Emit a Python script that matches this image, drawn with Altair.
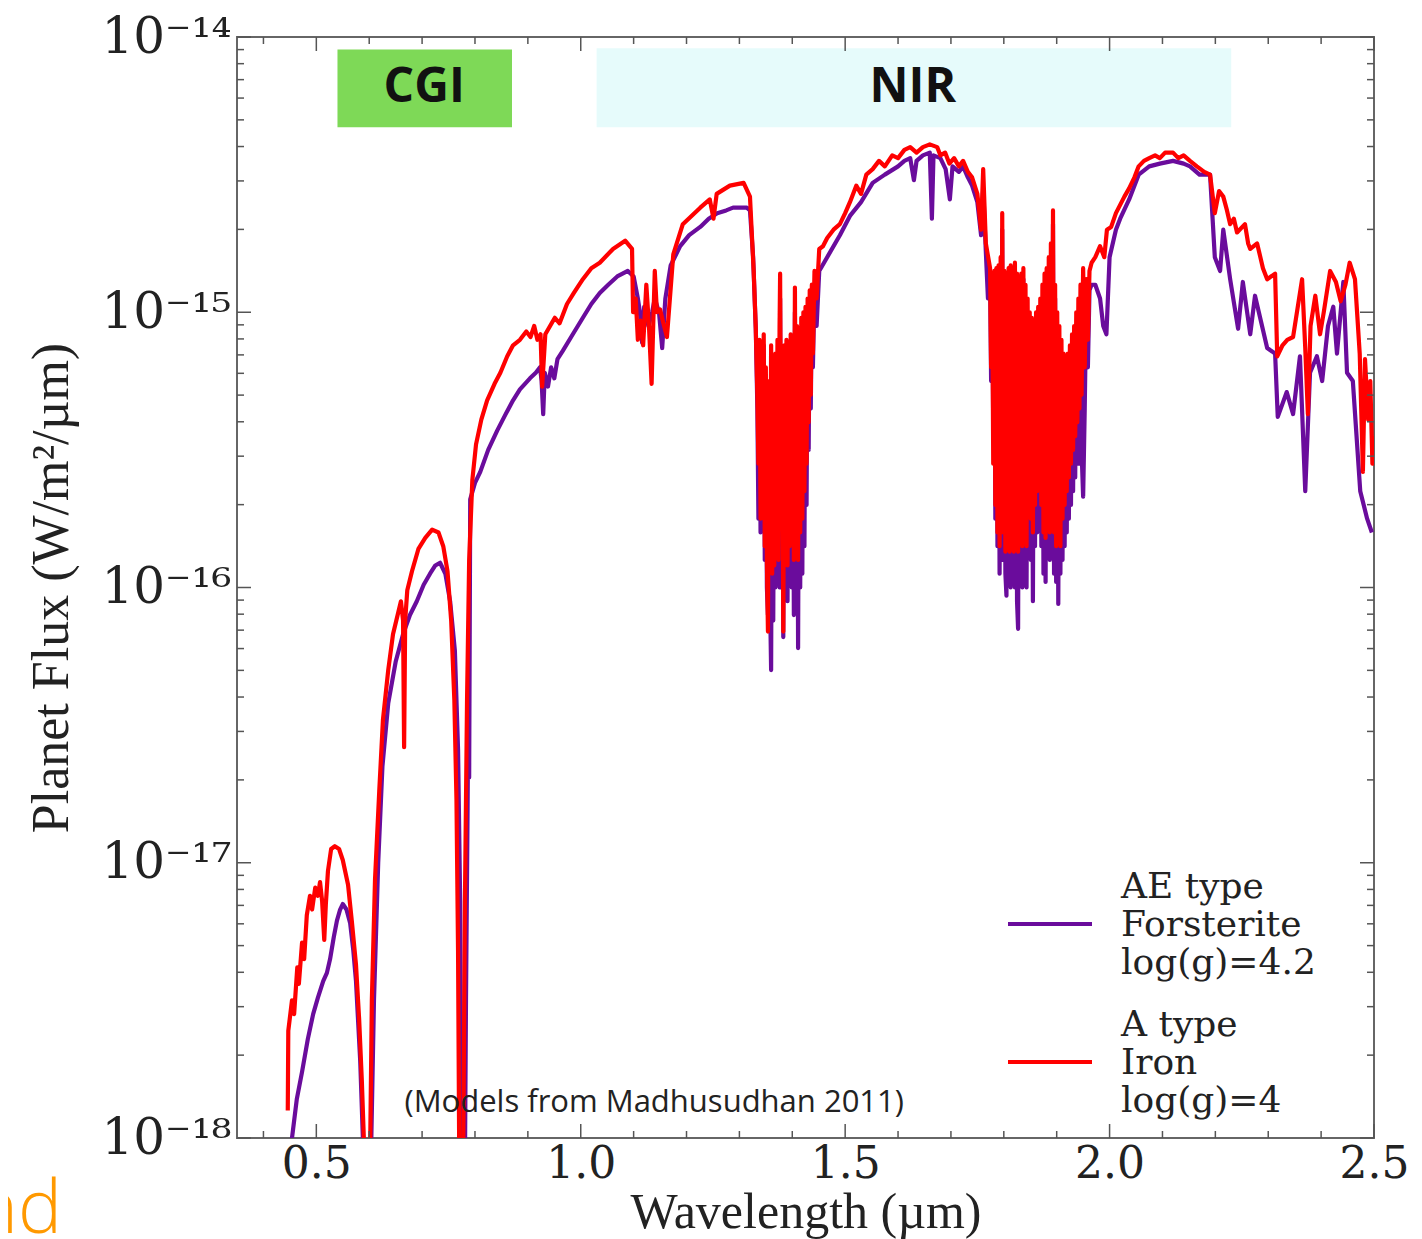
import altair as alt
import pandas as pd

# ---------------- data ----------------
# each entry: (wavelength in µm, log10 of planet flux in W/m²/µm)

# A type, Iron, log(g)=4  (red)
red_visible = [
    (0.446, -17.90), (0.447, -17.61), (0.454, -17.50), (0.458, -17.55), (0.464, -17.38), (0.467, -17.44),
    (0.473, -17.29), (0.477, -17.35), (0.482, -17.19), (0.488, -17.12), (0.492, -17.17), (0.498, -17.09),
    (0.503, -17.12), (0.507, -17.07), (0.511, -17.14), (0.515, -17.28), (0.518, -17.15), (0.522, -17.03),
    (0.528, -16.95), (0.535, -16.94), (0.543, -16.95), (0.550, -16.99), (0.560, -17.08), (0.567, -17.21),
    (0.575, -17.37), (0.581, -17.57), (0.586, -17.79), (0.590, -18.01), (0.594, -18.40), (0.598, -18.40),
    (0.602, -18.00), (0.605, -17.50), (0.611, -17.06), (0.619, -16.74), (0.626, -16.48), (0.636, -16.30),
    (0.645, -16.17), (0.655, -16.09), (0.660, -16.05), (0.664, -16.12), (0.666, -16.58), (0.668, -16.12),
    (0.672, -16.01), (0.681, -15.94), (0.693, -15.86), (0.706, -15.82), (0.719, -15.79), (0.731, -15.80),
    (0.740, -15.85), (0.748, -15.94), (0.755, -16.12), (0.761, -16.41), (0.765, -16.77), (0.768, -17.32),
    (0.770, -18.00), (0.772, -18.40), (0.776, -18.40), (0.778, -18.00), (0.781, -17.14), (0.785, -16.41),
    (0.789, -15.90), (0.795, -15.61), (0.802, -15.48), (0.812, -15.39), (0.823, -15.32), (0.837, -15.26),
    (0.848, -15.22), (0.861, -15.16), (0.872, -15.12), (0.885, -15.10), (0.897, -15.07), (0.905, -15.09),
    (0.912, -15.05), (0.918, -15.10), (0.924, -15.08), (0.927, -15.27), (0.933, -15.08), (0.942, -15.05),
    (0.951, -15.02), (0.960, -15.04), (0.974, -14.97), (0.987, -14.93), (1.004, -14.88), (1.020, -14.84),
    (1.036, -14.82), (1.061, -14.77), (1.084, -14.74), (1.097, -14.77), (1.099, -15.00), (1.104, -14.95),
    (1.108, -15.10), (1.113, -15.03), (1.118, -15.12), (1.124, -14.90), (1.129, -15.05), (1.134, -15.26),
    (1.137, -15.05), (1.140, -14.85), (1.144, -15.00), (1.150, -14.99), (1.155, -15.03), (1.163, -15.09),
    (1.175, -14.79), (1.193, -14.68), (1.226, -14.62), (1.244, -14.59), (1.251, -14.66), (1.257, -14.57),
    (1.282, -14.54), (1.308, -14.53), (1.320, -14.58), (1.327, -14.85), (1.331, -15.06),
]
red_band_135 = [
    (1.334, -15.30), (1.336, -15.55), (1.338, -15.10), (1.340, -15.75), (1.342, -15.15), (1.344, -15.65),
    (1.346, -15.08), (1.348, -15.85), (1.350, -15.20), (1.352, -15.90), (1.354, -16.16), (1.356, -15.25),
    (1.358, -15.85), (1.360, -15.12), (1.362, -15.95), (1.364, -15.20), (1.366, -15.92), (1.368, -15.15),
    (1.370, -15.80), (1.372, -15.10), (1.374, -15.90), (1.376, -15.05), (1.377, -14.86), (1.379, -15.75),
    (1.381, -15.20), (1.383, -16.16), (1.385, -15.12), (1.387, -15.88), (1.389, -15.10), (1.391, -15.92),
    (1.393, -15.15), (1.395, -15.85), (1.397, -15.08), (1.399, -15.80), (1.401, -15.12), (1.403, -15.90),
    (1.405, -14.91), (1.407, -15.85), (1.409, -15.05), (1.411, -15.90), (1.413, -15.08), (1.415, -15.80),
    (1.417, -15.02), (1.419, -15.75), (1.421, -15.00), (1.423, -15.65), (1.425, -14.98), (1.427, -15.55),
    (1.429, -14.95), (1.431, -15.40), (1.433, -14.92), (1.435, -15.30), (1.437, -14.90), (1.439, -15.15),
    (1.442, -14.85), (1.446, -14.95),
]
red_peak_165 = [
    (1.451, -14.77), (1.458, -14.76), (1.466, -14.73), (1.478, -14.70), (1.490, -14.68), (1.500, -14.64),
    (1.509, -14.60), (1.521, -14.54), (1.530, -14.57), (1.540, -14.50), (1.552, -14.48), (1.564, -14.45),
    (1.575, -14.47), (1.589, -14.43), (1.600, -14.44), (1.612, -14.41), (1.623, -14.40), (1.635, -14.42),
    (1.647, -14.40), (1.660, -14.39), (1.674, -14.40), (1.680, -14.43), (1.689, -14.42), (1.697, -14.46),
    (1.706, -14.44), (1.715, -14.47), (1.723, -14.45), (1.732, -14.49), (1.740, -14.51), (1.750, -14.57),
    (1.757, -14.70), (1.761, -14.48), (1.766, -14.75), (1.774, -14.84),
]
red_band_185 = [
    (1.776, -15.20), (1.778, -14.86), (1.780, -15.55), (1.782, -14.85), (1.784, -15.70), (1.786, -14.84),
    (1.788, -15.80), (1.790, -14.83), (1.792, -15.85), (1.794, -14.80), (1.796, -15.75), (1.797, -14.64),
    (1.799, -15.80), (1.801, -14.85), (1.803, -15.87), (1.805, -14.88), (1.807, -15.80), (1.809, -14.84),
    (1.811, -15.87), (1.813, -14.83), (1.815, -15.82), (1.817, -14.85), (1.819, -15.87), (1.821, -14.82),
    (1.823, -15.80), (1.825, -14.86), (1.827, -15.87), (1.829, -14.88), (1.831, -15.75), (1.833, -14.86),
    (1.835, -15.85), (1.837, -14.84), (1.839, -15.80), (1.841, -14.90), (1.843, -15.85), (1.845, -14.95),
    (1.847, -15.70), (1.849, -15.00), (1.851, -15.75), (1.853, -15.02), (1.855, -15.80), (1.857, -15.05),
    (1.859, -15.70), (1.861, -15.00), (1.863, -15.65), (1.865, -14.98), (1.867, -15.60), (1.869, -14.95),
    (1.871, -15.70), (1.873, -14.90), (1.875, -15.80), (1.877, -14.86), (1.879, -15.82), (1.881, -14.84),
    (1.883, -15.75), (1.885, -14.80), (1.887, -15.80), (1.889, -14.75), (1.891, -15.70), (1.893, -14.63),
    (1.895, -15.80), (1.897, -14.90), (1.899, -15.85), (1.901, -15.00), (1.903, -15.80), (1.905, -15.05),
    (1.907, -15.85), (1.909, -15.10), (1.911, -15.75), (1.913, -15.15), (1.915, -15.70), (1.917, -15.17),
    (1.919, -15.65), (1.921, -15.15), (1.923, -15.60), (1.925, -15.12), (1.927, -15.55), (1.929, -15.08),
    (1.931, -15.50), (1.933, -15.05), (1.935, -15.45), (1.937, -15.00), (1.939, -15.40), (1.941, -14.95),
    (1.943, -15.35), (1.945, -14.90), (1.947, -15.30), (1.950, -14.84), (1.953, -15.20), (1.956, -14.88),
    (1.959, -15.10), (1.962, -14.85), (1.966, -14.82), (1.973, -14.80),
]
red_tail = [
    (1.982, -14.76), (1.990, -14.80), (1.995, -14.70), (2.003, -14.69), (2.012, -14.64), (2.020, -14.61),
    (2.028, -14.58), (2.037, -14.55), (2.047, -14.51), (2.055, -14.47), (2.065, -14.45), (2.075, -14.44),
    (2.086, -14.43), (2.095, -14.44), (2.105, -14.42), (2.120, -14.42), (2.130, -14.44), (2.140, -14.43),
    (2.152, -14.45), (2.165, -14.47), (2.179, -14.49), (2.190, -14.50), (2.199, -14.64), (2.207, -14.56),
    (2.215, -14.58), (2.222, -14.63), (2.228, -14.68), (2.235, -14.66), (2.241, -14.71), (2.256, -14.68),
    (2.262, -14.75), (2.266, -14.77), (2.279, -14.75), (2.290, -14.84), (2.298, -14.88), (2.313, -14.86),
    (2.317, -15.16), (2.327, -15.12), (2.336, -15.10), (2.347, -15.09), (2.364, -14.88), (2.370, -15.13),
    (2.375, -15.37), (2.380, -15.05), (2.389, -14.94), (2.398, -15.08), (2.405, -15.00), (2.417, -14.85),
    (2.428, -14.89), (2.437, -14.96), (2.446, -14.90), (2.454, -14.82), (2.464, -14.88), (2.473, -15.15),
    (2.479, -15.58), (2.483, -15.17), (2.489, -15.39), (2.493, -15.25), (2.497, -15.55), (2.500, -15.45),
]

# AE type, Forsterite, log(g)=4.2  (purple)
purple_visible = [
    (0.449, -18.40), (0.454, -18.00), (0.463, -17.86), (0.473, -17.76), (0.484, -17.64), (0.494, -17.55),
    (0.503, -17.49), (0.513, -17.43), (0.520, -17.40), (0.526, -17.35), (0.533, -17.27), (0.539, -17.21),
    (0.545, -17.17), (0.550, -17.15), (0.557, -17.17), (0.564, -17.22), (0.570, -17.32), (0.575, -17.43),
    (0.583, -17.72), (0.588, -18.00), (0.592, -18.40),
    (0.600, -18.40), (0.604, -18.00), (0.609, -17.50), (0.617, -17.00), (0.625, -16.65), (0.636, -16.42),
    (0.650, -16.27), (0.664, -16.17), (0.677, -16.10), (0.690, -16.05), (0.703, -15.99), (0.715, -15.95),
    (0.725, -15.92), (0.734, -15.91), (0.744, -15.95), (0.753, -16.05), (0.762, -16.23), (0.768, -16.59),
    (0.772, -17.14), (0.774, -18.00), (0.776, -18.40),
    (0.780, -18.40), (0.783, -17.50), (0.786, -16.80), (0.788, -16.30), (0.789, -16.69), (0.791, -15.68),
    (0.800, -15.62), (0.810, -15.58), (0.825, -15.50), (0.842, -15.43), (0.858, -15.37), (0.872, -15.32),
    (0.885, -15.28), (0.904, -15.24), (0.915, -15.22), (0.923, -15.20), (0.926, -15.25), (0.929, -15.37),
    (0.932, -15.22), (0.938, -15.27), (0.944, -15.20), (0.950, -15.24), (0.956, -15.17), (0.966, -15.14),
    (0.985, -15.08), (1.004, -15.02), (1.020, -14.97), (1.036, -14.93), (1.052, -14.90), (1.069, -14.87),
    (1.089, -14.85), (1.100, -14.87), (1.108, -14.95), (1.112, -15.00), (1.116, -15.11), (1.120, -14.98),
    (1.128, -15.05), (1.135, -15.00), (1.140, -14.95), (1.148, -15.00), (1.154, -15.13), (1.160, -14.95),
    (1.170, -14.83), (1.188, -14.76), (1.205, -14.72), (1.226, -14.69), (1.242, -14.66), (1.258, -14.64),
    (1.275, -14.63), (1.288, -14.62), (1.300, -14.62), (1.314, -14.62), (1.320, -14.63), (1.326, -14.80),
    (1.331, -15.06),
]
purple_band_135 = [
    (1.334, -15.35), (1.336, -15.75), (1.338, -15.15), (1.340, -15.80), (1.342, -15.20), (1.344, -15.75),
    (1.346, -15.12), (1.348, -15.90), (1.350, -15.25), (1.352, -16.00), (1.354, -16.10), (1.356, -15.30),
    (1.358, -16.05), (1.360, -16.30), (1.362, -15.20), (1.364, -16.12), (1.366, -15.25), (1.368, -16.00),
    (1.370, -15.20), (1.372, -15.95), (1.374, -15.15), (1.376, -16.00), (1.377, -14.95), (1.379, -15.90),
    (1.381, -15.25), (1.383, -16.18), (1.385, -15.20), (1.387, -16.00), (1.389, -15.15), (1.391, -16.05),
    (1.393, -15.20), (1.395, -15.95), (1.397, -15.12), (1.399, -16.00), (1.401, -15.18), (1.403, -16.10),
    (1.405, -15.00), (1.407, -16.05), (1.409, -15.10), (1.411, -16.22), (1.413, -15.12), (1.415, -16.00),
    (1.417, -15.08), (1.419, -15.95), (1.421, -15.05), (1.423, -15.85), (1.425, -15.02), (1.427, -15.70),
    (1.429, -15.00), (1.431, -15.50), (1.433, -14.97), (1.435, -15.35), (1.437, -14.95), (1.439, -15.20),
    (1.442, -14.92), (1.446, -15.05),
]
purple_peak_165 = [
    (1.451, -14.85), (1.466, -14.80), (1.490, -14.72), (1.509, -14.65), (1.530, -14.60), (1.552, -14.53),
    (1.575, -14.50), (1.600, -14.47), (1.612, -14.45), (1.623, -14.44), (1.630, -14.52), (1.635, -14.45),
    (1.647, -14.43), (1.660, -14.42), (1.664, -14.66), (1.667, -14.43), (1.680, -14.44), (1.690, -14.48),
    (1.698, -14.59), (1.703, -14.47), (1.715, -14.49), (1.723, -14.47), (1.732, -14.51), (1.740, -14.54),
    (1.750, -14.60), (1.757, -14.72), (1.761, -14.55), (1.766, -14.78), (1.770, -14.95), (1.774, -14.88),
]
purple_band_185 = [
    (1.776, -15.25), (1.778, -14.90), (1.780, -15.42), (1.782, -14.90), (1.784, -15.75), (1.786, -14.88),
    (1.788, -15.85), (1.790, -14.88), (1.792, -15.95), (1.794, -14.85), (1.796, -15.90), (1.797, -14.70),
    (1.799, -15.85), (1.801, -14.90), (1.803, -15.95), (1.805, -16.03), (1.807, -14.92), (1.809, -15.95),
    (1.811, -14.88), (1.813, -16.00), (1.815, -14.88), (1.817, -15.95), (1.819, -14.86), (1.821, -16.00),
    (1.823, -14.90), (1.825, -16.05), (1.827, -16.15), (1.829, -14.92), (1.831, -15.90), (1.833, -14.90),
    (1.835, -16.00), (1.837, -14.88), (1.839, -15.95), (1.841, -14.95), (1.843, -16.00), (1.845, -15.00),
    (1.847, -15.85), (1.849, -15.05), (1.851, -15.90), (1.853, -15.08), (1.855, -16.05), (1.857, -15.10),
    (1.859, -15.85), (1.861, -15.05), (1.863, -15.80), (1.865, -15.02), (1.867, -15.75), (1.869, -15.00),
    (1.871, -15.85), (1.873, -14.95), (1.875, -15.95), (1.877, -14.90), (1.879, -15.98), (1.881, -14.88),
    (1.884, -15.40), (1.887, -15.90), (1.889, -14.80), (1.891, -15.85), (1.893, -14.68), (1.895, -15.95),
    (1.897, -14.95), (1.899, -15.98), (1.901, -15.05), (1.903, -16.06), (1.905, -15.10), (1.907, -15.95),
    (1.909, -15.15), (1.911, -15.90), (1.913, -15.20), (1.915, -15.85), (1.917, -15.22), (1.919, -15.80),
    (1.921, -15.20), (1.923, -15.75), (1.925, -15.17), (1.927, -15.70), (1.929, -15.12), (1.931, -15.65),
    (1.933, -15.10), (1.935, -15.60), (1.937, -15.05), (1.939, -15.55), (1.941, -15.00), (1.943, -15.55),
    (1.945, -14.95), (1.947, -15.50), (1.950, -15.67), (1.953, -15.35), (1.956, -14.95), (1.959, -15.20),
    (1.962, -14.92), (1.966, -14.90), (1.973, -14.90),
]
purple_tail = [
    (1.982, -14.95), (1.988, -15.05), (1.994, -15.08), (2.000, -14.80), (2.012, -14.70), (2.020, -14.66),
    (2.037, -14.59), (2.055, -14.50), (2.075, -14.47), (2.095, -14.46), (2.120, -14.45), (2.140, -14.46),
    (2.152, -14.47), (2.170, -14.50), (2.190, -14.50), (2.199, -14.80), (2.209, -14.85), (2.215, -14.70),
    (2.228, -14.88), (2.243, -15.06), (2.252, -14.89), (2.266, -15.08), (2.275, -14.94), (2.298, -15.13),
    (2.313, -15.15), (2.318, -15.38), (2.335, -15.29), (2.347, -15.37), (2.360, -15.16), (2.370, -15.65),
    (2.379, -15.22), (2.392, -15.16), (2.402, -15.25), (2.413, -15.05), (2.423, -14.98), (2.430, -15.15),
    (2.442, -14.89), (2.449, -15.22), (2.460, -15.25), (2.474, -15.65), (2.487, -15.75), (2.496, -15.80),
]

series_names = ["AE type|Forsterite|log(g)=4.2", "A type|Iron|log(g)=4"]
series_colors = ["#6a0c9c", "#ff0000"]

# instrument bands drawn at the top of the plot
band_names = ["CGI", "NIR"]
band_wl_start = [0.54, 1.03]
band_wl_end = [0.87, 2.23]
band_flux_low = [4.7e-15, 4.7e-15]
band_flux_high = [9.0e-15, 9.1e-15]
band_colors = ["#7ed957", "#e6fbfb"]
band_label_wl = [0.704, 1.628]
band_label_flux = [6.5e-15, 6.5e-15]

note_text = ["(Models from Madhusudhan 2011)"]
note_wl = [1.139]
note_flux = [1.34e-18]

# axis ticks
x_major = [0.5, 1.0, 1.5, 2.0, 2.5]
x_minor = [0.4, 0.6, 0.7, 0.8, 0.9, 1.1, 1.2, 1.3, 1.4, 1.6, 1.7, 1.8, 1.9, 2.1, 2.2, 2.3, 2.4]
y_major = [1e-18, 1e-17, 1e-16, 1e-15, 1e-14]
y_major_labels = ["10⁻¹⁸", "10⁻¹⁷", "10⁻¹⁶", "10⁻¹⁵", "10⁻¹⁴"]
y_minor = [2e-18, 3e-18, 4e-18, 5e-18, 6e-18, 7e-18, 8e-18, 9e-18,
           2e-17, 3e-17, 4e-17, 5e-17, 6e-17, 7e-17, 8e-17, 9e-17,
           2e-16, 3e-16, 4e-16, 5e-16, 6e-16, 7e-16, 8e-16, 9e-16,
           2e-15, 3e-15, 4e-15, 5e-15, 6e-15, 7e-15, 8e-15, 9e-15]

# ---------------- chart ----------------
W, H = 1137, 1101
xs = alt.Scale(domain=[0.35, 2.5], nice=False, zero=False)
ys = alt.Scale(type="log", domain=[1e-18, 1e-14], nice=False)

label_expr = " : ".join(
    f"abs(datum.value - {v}) < {v} * 0.01 ? '{lab}'" for v, lab in zip(y_major, y_major_labels)
) + " : ''"

x_axis = alt.Axis(values=x_major, format=".1f", title="Wavelength (µm)", domain=False, ticks=False, grid=False,
                  labelFont="DejaVu Serif", labelFontSize=44, labelColor="#222", labelPadding=4,
                  labelFlush=False, labelOverlap=False,
                  titleFont="Liberation Serif", titleFontSize=50, titleFontWeight="normal", titleColor="#222",
                  titleY=89, titleBaseline="alphabetic")
y_axis = alt.Axis(values=y_major, labelExpr=label_expr, title="Planet Flux (W/m²/µm)", domain=False, ticks=False,
                  grid=False, labelFont="DejaVu Serif", labelFontSize=50, labelColor="#222", labelPadding=6,
                  labelFlush=False, labelOverlap=False,
                  titleFont="Liberation Serif", titleFontSize=52, titleFontWeight="normal", titleColor="#222",
                  titleX=-170, titleY=H / 2, titleAngle=-90, titleBaseline="alphabetic", titleAlign="center")

# stroke symbol drawn level with the middle line of each three-line label
legend = alt.Legend(orient="none", legendX=769, legendY=806, title=None, symbolType="M-1,0.88L1,0.88",
                    symbolSize=7056, symbolStrokeWidth=4, labelFont="DejaVu Serif", labelFontSize=36,
                    labelColor="#222", labelOffset=27, rowPadding=-9, labelLimit=500, padding=0,
                    labelExpr="split(datum.label, '|')")
color = alt.Color("series:N", scale=alt.Scale(domain=series_names, range=series_colors), legend=legend)


def spectrum_frame(segments, name):
    pts = [p for seg in segments for p in seg]
    return pd.DataFrame({"wl": [p[0] for p in pts], "logf": [p[1] for p in pts], "series": name})


df_purple = spectrum_frame([purple_visible, purple_band_135, purple_peak_165, purple_band_185, purple_tail],
                           series_names[0])
df_red = spectrum_frame([red_visible, red_band_135, red_peak_165, red_band_185, red_tail], series_names[1])


def spectrum(df):
    return alt.Chart(df).transform_calculate(flux="pow(10, datum.logf)").mark_line(
        strokeWidth=4.2, clip=True, strokeJoin="round"
    ).encode(
        x=alt.X("wl:Q", scale=xs, axis=x_axis),
        y=alt.Y("flux:Q", scale=ys, axis=y_axis),
        color=color,
    )


df_bands = pd.DataFrame({"name": band_names, "w0": band_wl_start, "w1": band_wl_end,
                         "f0": band_flux_low, "f1": band_flux_high, "fill": band_colors,
                         "lw": band_label_wl, "lf": band_label_flux})
bands = alt.Chart(df_bands).mark_rect().encode(
    x=alt.X("w0:Q", scale=xs, axis=x_axis), x2="w1:Q",
    y=alt.Y("f0:Q", scale=ys, axis=y_axis), y2="f1:Q",
    fill=alt.Fill("fill:N", scale=None),
)
band_text = alt.Chart(df_bands).mark_text(font="Open Sans", fontWeight="bold", fontSize=48, color="#111",
                                          baseline="middle", align="center").encode(
    x=alt.X("lw:Q", scale=xs, axis=x_axis),
    y=alt.Y("lf:Q", scale=ys, axis=y_axis),
    text="name:N",
)

df_note = pd.DataFrame({"t": note_text, "w": note_wl, "f": note_flux})
note = alt.Chart(df_note).mark_text(font="Open Sans", fontSize=31, color="#222", baseline="middle",
                                    align="center").encode(
    x=alt.X("w:Q", scale=xs, axis=x_axis),
    y=alt.Y("f:Q", scale=ys, axis=y_axis),
    text="t:N",
)


def xticks(vals, length):
    d = pd.DataFrame({"v": vals})
    bottom = alt.Chart(d).mark_rule(color="#555", strokeWidth=1.5).encode(
        x=alt.X("v:Q", scale=xs, axis=x_axis), y=alt.value(H), y2=alt.value(H - length))
    top = alt.Chart(d).mark_rule(color="#555", strokeWidth=1.5).encode(
        x=alt.X("v:Q", scale=xs, axis=x_axis), y=alt.value(0), y2=alt.value(length))
    return [bottom, top]


def yticks(vals, length):
    d = pd.DataFrame({"v": vals})
    left = alt.Chart(d).mark_rule(color="#555", strokeWidth=1.5).encode(
        y=alt.Y("v:Q", scale=ys, axis=y_axis), x=alt.value(0), x2=alt.value(length))
    right = alt.Chart(d).mark_rule(color="#555", strokeWidth=1.5).encode(
        y=alt.Y("v:Q", scale=ys, axis=y_axis), x=alt.value(W), x2=alt.value(W - length))
    return [left, right]


# fragment of a slide word cut by the left edge of the picture
edge_word = alt.Chart(pd.DataFrame({"t": ["and"]})).mark_text(
    font="Open Sans", fontSize=74, fontWeight=300, color="#ff9900", align="right", baseline="alphabetic"
).encode(x=alt.value(-175), y=alt.value(1196), text="t:N")

layers = [bands, band_text, spectrum(df_purple), spectrum(df_red)]
layers += xticks(x_major, 14) + xticks(x_minor, 7) + yticks(y_major, 14) + yticks(y_minor, 7)
layers += [note, edge_word]

chart = alt.layer(*layers).properties(
    width=W, height=H,
    padding={"left": 229, "top": 29, "right": 40, "bottom": 101},
    autosize=alt.AutoSizeParams(type="none"),
    background="white",
).configure_view(stroke="#666", strokeWidth=2)

chart.save("out.html", embed_options={"renderer": "svg", "actions": False})
